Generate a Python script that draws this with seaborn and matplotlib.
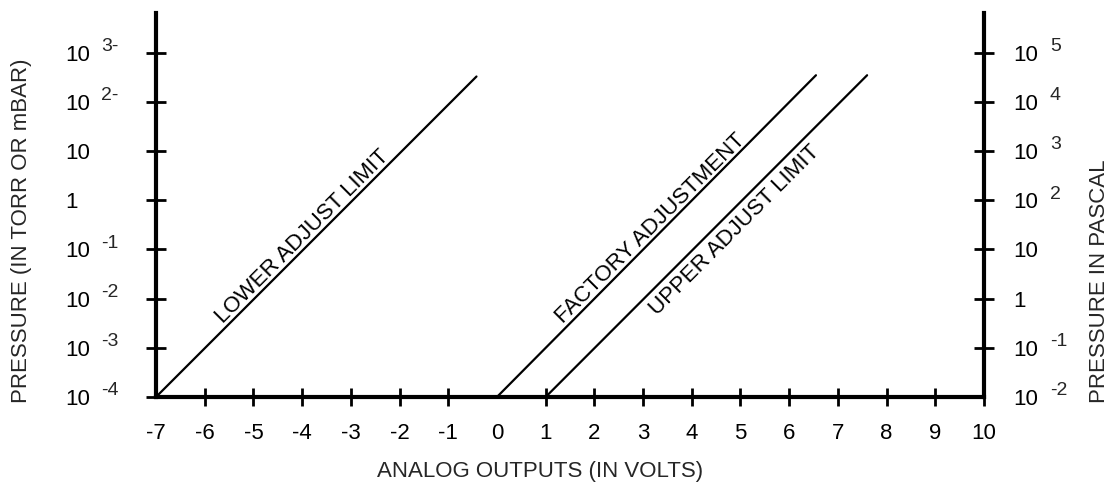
import numpy as np
import seaborn as sns
import matplotlib.pyplot as plt
from matplotlib.ticker import NullLocator

# analog output (volts) vs pressure (torr / mbar), line end points
lower_volts = [-7.0, -0.42]
lower_pressure = [1e-4, 330.0]
factory_volts = [0.0, 6.55]
factory_pressure = [1e-4, 350.0]
upper_volts = [1.0, 7.6]
upper_pressure = [1e-4, 350.0]

x_ticks = list(range(-7, 11))

left_ticks = [1e-4, 1e-3, 1e-2, 1e-1, 1, 10, 100, 1000]
left_base = ["10", "10", "10", "10", "1", "10", "10", "10"]
left_exp = ["-4", "-3", "-2", "-1", "", "", "2-", "3-"]

right_ticks = [1e-2, 1e-1, 1, 10, 100, 1000, 1e4, 1e5]
right_base = ["10", "10", "1", "10", "10", "10", "10", "10"]
right_exp = ["-2", "-1", "", "", "2", "3", "4", "5"]

sns.set_style("ticks")
plt.rcParams["font.family"] = ["Liberation Sans", "DejaVu Sans"]
FS = 16
FS_EXP = 14

fig = plt.figure(figsize=(11.12, 4.82), dpi=100)
ax = fig.add_axes([156 / 1112, 85 / 482, 828 / 1112, 384 / 482])

lines = [
    ("LOWER ADJUST LIMIT", lower_volts, lower_pressure, -3.85, "above"),
    ("FACTORY ADJUSTMENT", factory_volts, factory_pressure, 3.3, "above"),
    ("UPPER ADJUST LIMIT", upper_volts, upper_pressure, 4.65, "below"),
]

for label, v, p, vpos, side in lines:
    sns.lineplot(x=v, y=p, ax=ax, color="black", linewidth=1.6, legend=False)

ax.set_yscale("log")
ax.set_xlim(-7, 10)
ax.set_ylim(1e-4, 10 ** 3.81)

for label, v, p, vpos, side in lines:
    ppos = 10 ** np.interp(vpos, v, np.log10(p))
    if side == "above":
        off, va = (-2.0, 2.0), "baseline"
    else:
        off, va = (3.0, -3.0), "top"
    ax.annotate(label, xy=(vpos, ppos), xytext=off, textcoords="offset points",
                rotation=45, rotation_mode="anchor", ha="center", va=va,
                fontsize=FS, color="black")

for side in ["left", "bottom", "right"]:
    ax.spines[side].set_linewidth(3)
    ax.spines[side].set_color("black")
ax.spines["top"].set_visible(False)
ax.spines["right"].set_visible(False)

# x axis
ax.set_xticks(x_ticks)
ax.set_xticklabels([str(t) for t in x_ticks], fontsize=FS)
ax.tick_params(axis="x", direction="inout", length=12.7, width=2, pad=12.5, colors="black")
for t, tick in zip(x_ticks, ax.xaxis.get_major_ticks()):
    if t in (-7, 0):
        tick.tick1line.set_visible(False)
ax.set_xlabel("ANALOG OUTPUTS (IN VOLTS)", fontsize=FS)
ax.xaxis.set_label_coords(0.464, -0.195)
ax.xaxis.label.set_va("center")

# left axis
ax.yaxis.set_minor_locator(NullLocator())
ax.set_yticks(left_ticks)
ax.set_yticklabels(left_base, fontsize=FS, ha="left")
ax.tick_params(axis="y", direction="inout", length=14.4, width=2, pad=58.3, colors="black")
ax.yaxis.get_major_ticks()[0].tick1line.set_visible(False)
for val, e in zip(left_ticks, left_exp):
    if e:
        ax.annotate(e, xy=(0, val), xycoords=ax.get_yaxis_transform(),
                    xytext=(-39.6, 4.5), textcoords="offset points",
                    ha="left", va="center", fontsize=FS_EXP, annotation_clip=False)
ax.set_ylabel("PRESSURE (IN TORR OR mBAR)", fontsize=FS)
ax.yaxis.set_label_coords(-0.162, 0.432)
ax.yaxis.label.set_va("center")

# right axis in pascal
ax2 = ax.twinx()
ax2.set_yscale("log")
ax2.set_ylim(1e-2, 10 ** 5.81)
ax2.yaxis.set_minor_locator(NullLocator())
for side in ["left", "bottom", "top"]:
    ax2.spines[side].set_visible(False)
ax2.spines["right"].set_linewidth(3)
ax2.spines["right"].set_color("black")
ax2.set_yticks(right_ticks)
ax2.set_yticklabels(right_base, fontsize=FS, ha="left")
ax2.tick_params(axis="y", direction="inout", length=14.4, width=2, pad=13.7, colors="black")
ax2.yaxis.get_major_ticks()[0].tick2line.set_visible(False)
for val, e in zip(right_ticks, right_exp):
    if e:
        ax2.annotate(e, xy=(1, val), xycoords=ax2.get_yaxis_transform(),
                     xytext=(47.5, 4.5), textcoords="offset points",
                     ha="left", va="center", fontsize=FS_EXP, annotation_clip=False)
ax2.set_ylabel("PRESSURE IN PASCAL", fontsize=FS)
ax2.yaxis.set_label_coords(1.140, 0.302)
ax2.yaxis.label.set_va("center")

fig.savefig("out.png", dpi=100)
